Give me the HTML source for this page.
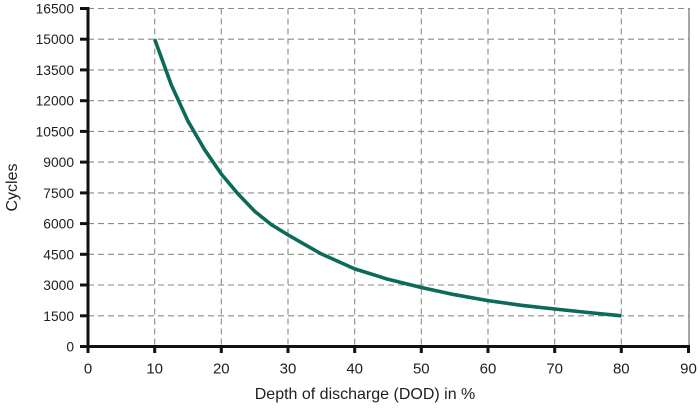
<!DOCTYPE html>
<html>
<head>
<meta charset="utf-8">
<style>
html,body{margin:0;padding:0;background:#fff;}
svg{display:block;}
text{font-family:"Liberation Sans",Arial,sans-serif;fill:#1e1e1e;}
</style>
</head>
<body>
<svg width="700" height="408" viewBox="0 0 700 408" xmlns="http://www.w3.org/2000/svg">
<rect width="700" height="408" fill="#fff"/>
<!-- grid -->
<g stroke="#8a8a8a" stroke-width="1.1" stroke-dasharray="6,4" fill="none">
<line x1="88" y1="8.5" x2="689" y2="8.5"/>
<line x1="88" y1="39.2" x2="689" y2="39.2"/>
<line x1="88" y1="69.9" x2="689" y2="69.9"/>
<line x1="88" y1="100.7" x2="689" y2="100.7"/>
<line x1="88" y1="131.4" x2="689" y2="131.4"/>
<line x1="88" y1="162.1" x2="689" y2="162.1"/>
<line x1="88" y1="192.9" x2="689" y2="192.9"/>
<line x1="88" y1="223.6" x2="689" y2="223.6"/>
<line x1="88" y1="254.3" x2="689" y2="254.3"/>
<line x1="88" y1="285.0" x2="689" y2="285.0"/>
<line x1="88" y1="315.8" x2="689" y2="315.8"/>
<line x1="154.7" y1="8.5" x2="154.7" y2="346"/>
<line x1="221.3" y1="8.5" x2="221.3" y2="346"/>
<line x1="288" y1="8.5" x2="288" y2="346"/>
<line x1="354.7" y1="8.5" x2="354.7" y2="346"/>
<line x1="421.3" y1="8.5" x2="421.3" y2="346"/>
<line x1="488" y1="8.5" x2="488" y2="346"/>
<line x1="554.7" y1="8.5" x2="554.7" y2="346"/>
<line x1="621.3" y1="8.5" x2="621.3" y2="346"/>
</g>
<line x1="689" y1="8" x2="689" y2="346" stroke="#777" stroke-width="1.3"/>
<!-- curve -->
<polyline fill="none" stroke="#0b6a58" stroke-width="3.6" stroke-linejoin="round" stroke-linecap="butt"
points="154.7,39.2 171.3,84.9 188,121.2 204.7,149.8 221.3,174.0 238,193.9 254.7,211.3 271.3,224.6 288,234.9 321.3,253.9 354.7,268.9 388,279.3 421.3,287.5 454.7,294.7 488,300.6 521.3,305.3 554.7,309.0 588,312.5 621.3,315.8"/>
<!-- axes -->
<g stroke="#111" stroke-width="3">
<line x1="88" y1="7" x2="88" y2="348"/>
<line x1="86.5" y1="346.5" x2="690" y2="346.5"/>
<line x1="80" y1="8.5" x2="88" y2="8.5"/>
<line x1="80" y1="39.2" x2="88" y2="39.2"/>
<line x1="80" y1="69.9" x2="88" y2="69.9"/>
<line x1="80" y1="100.7" x2="88" y2="100.7"/>
<line x1="80" y1="131.4" x2="88" y2="131.4"/>
<line x1="80" y1="162.1" x2="88" y2="162.1"/>
<line x1="80" y1="192.9" x2="88" y2="192.9"/>
<line x1="80" y1="223.6" x2="88" y2="223.6"/>
<line x1="80" y1="254.3" x2="88" y2="254.3"/>
<line x1="80" y1="285.0" x2="88" y2="285.0"/>
<line x1="80" y1="315.8" x2="88" y2="315.8"/>
<line x1="80" y1="346.5" x2="88" y2="346.5"/>
<line x1="88" y1="346.5" x2="88" y2="353"/>
<line x1="154.7" y1="346.5" x2="154.7" y2="353"/>
<line x1="221.3" y1="346.5" x2="221.3" y2="353"/>
<line x1="288" y1="346.5" x2="288" y2="353"/>
<line x1="354.7" y1="346.5" x2="354.7" y2="353"/>
<line x1="421.3" y1="346.5" x2="421.3" y2="353"/>
<line x1="488" y1="346.5" x2="488" y2="353"/>
<line x1="554.7" y1="346.5" x2="554.7" y2="353"/>
<line x1="621.3" y1="346.5" x2="621.3" y2="353"/>
<line x1="688.5" y1="346.5" x2="688.5" y2="353"/>
</g>
<!-- y labels -->
<g font-size="13.8" text-anchor="end">
<text x="74" y="13.5">16500</text>
<text x="74" y="44.2">15000</text>
<text x="74" y="74.9">13500</text>
<text x="74" y="105.7">12000</text>
<text x="74" y="136.4">10500</text>
<text x="74" y="167.1">9000</text>
<text x="74" y="197.9">7500</text>
<text x="74" y="228.6">6000</text>
<text x="74" y="259.3">4500</text>
<text x="74" y="290.0">3000</text>
<text x="74" y="320.8">1500</text>
<text x="74" y="351.5">0</text>
</g>
<!-- x labels -->
<g font-size="15" text-anchor="middle">
<text x="88" y="373.5">0</text>
<text x="154.7" y="373.5">10</text>
<text x="221.3" y="373.5">20</text>
<text x="288" y="373.5">30</text>
<text x="354.7" y="373.5">40</text>
<text x="421.3" y="373.5">50</text>
<text x="488" y="373.5">60</text>
<text x="554.7" y="373.5">70</text>
<text x="621.3" y="373.5">80</text>
<text x="688.5" y="373.5">90</text>
</g>
<text x="365" y="399" font-size="16" text-anchor="middle">Depth of discharge (DOD) in %</text>
<text transform="translate(17,187.5) rotate(-90)" font-size="16" text-anchor="middle">Cycles</text>
</svg>
</body>
</html>
